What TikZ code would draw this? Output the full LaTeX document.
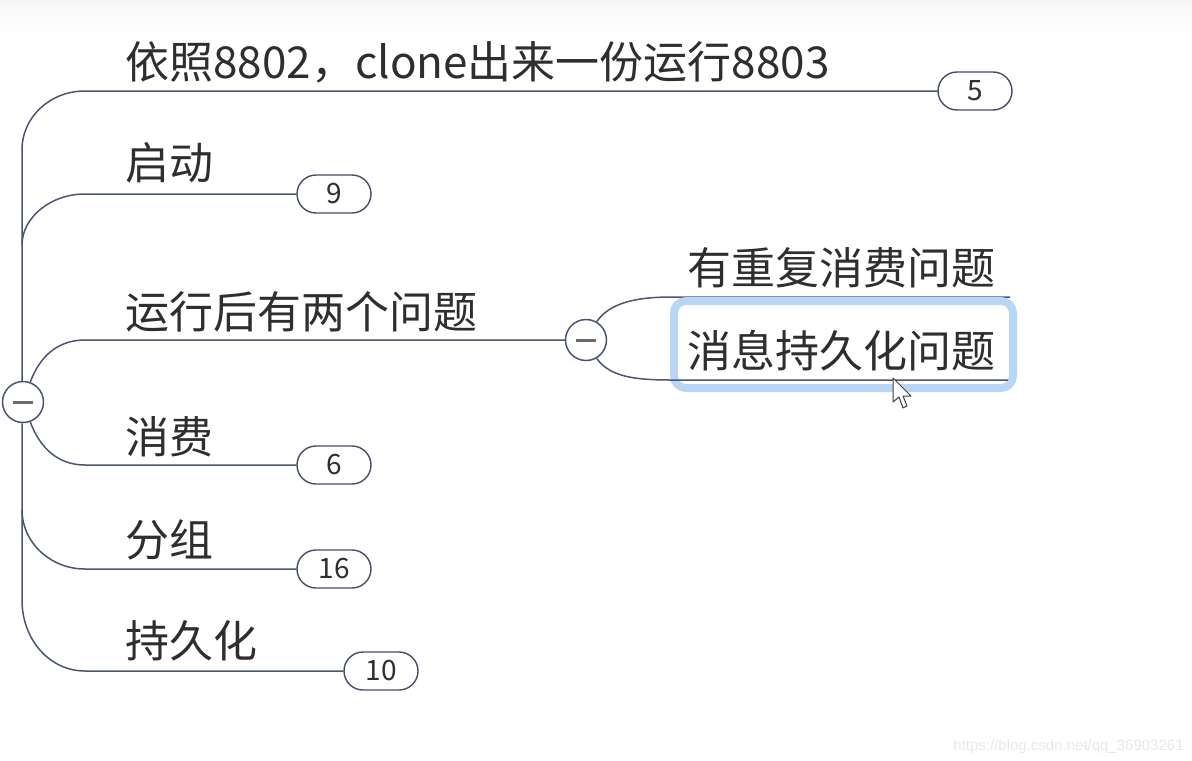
\documentclass[tikz,border=0pt]{standalone}
\usepackage{fontspec}
\setmainfont{Noto Sans CJK SC}
\newfontfamily\markfont{Liberation Sans}
\usetikzlibrary{shapes.misc}
\definecolor{linec}{HTML}{4B5573}
\definecolor{txtc}{HTML}{2E2E2E}
\definecolor{selc}{HTML}{B9D7F4}
\begin{document}
\begin{tikzpicture}[
    x=0.5pt, y=-0.5pt,
    topic/.style={anchor=base west, inner sep=0pt, text=txtc, font=\fontsize{22}{26}\selectfont},
    count/.style={rounded rectangle, draw=linec!90!black, fill=white, line width=0.7pt, minimum width=37pt, minimum height=19pt, inner sep=0pt, text=txtc, font=\fontsize{14}{16}\selectfont},
    toggle/.style={circle, draw=linec, fill=white, line width=0.75pt, minimum size=20.5pt, inner sep=0pt,
        path picture={\draw[line width=1.5pt, gray!85!black] ([xshift=-5pt]path picture bounding box.center) -- ([xshift=5pt]path picture bounding box.center);}},
    branch/.style={draw=linec, line width=0.75pt}
]
    \useasboundingbox (0,0) rectangle (1192,760);
    \shade[top color=gray!7, bottom color=white] (0,0) rectangle (1192,32);

    % Topics
    \node[topic] (clone) at (125,78) {依照8802，clone出来一份运行8803};
    \node[topic] (start) at (125,179) {启动};
    \node[topic] (issue) at (125,328) {运行后有两个问题};
    \node[topic] (consume) at (125,453) {消费};
    \node[topic] (group) at (125,556) {分组};
    \node[topic] (persist) at (125,657) {持久化};

    % Counts
    \node[count] (n5) at (975,91) {5};
    \node[count] (n9) at (334,194) {9};
    \node[count] (n6) at (334,465) {6};
    \node[count] (n16) at (334,569) {16};
    \node[count] (n10) at (381,671) {10};

    % Toggles
    \node[toggle] (root) at (23,402) {};
    \node[toggle] (mid) at (586,340) {};

    % Bend points
    \coordinate (up) at (22,150);
    \coordinate (b2) at (22,245);
    \coordinate (b5) at (22,510);
    \coordinate (down) at (22,600);

    % Branches
    \draw[branch] (root.north -| up) -- (up) .. controls (22,117) and (50,91) .. (85,91) -- (n5.west);
    \draw[branch] (b2) .. controls (22,218) and (50,194) .. (85,194) -- (n9.west);
    \draw[branch] (root.70) .. controls (40,356) and (58,340) .. (85,340) -- (mid.west);
    \draw[branch] (root.-70) .. controls (40,448) and (58,465) .. (85,465) -- (n6.west);
    \draw[branch] (root.south -| down) -- (down) .. controls (22,640) and (50,671) .. (85,671) -- (n10.west);
    \draw[branch] (b5) .. controls (22,542) and (50,569) .. (85,569) -- (n16.west);

    % Sub topics
    \node[topic] (repeat) at (687,284) {有重复消费问题};
    \draw[branch] (mid.60) .. controls (610,303) and (635,297) .. (672,297) -- (1010,297);
    \draw[selc, line width=4pt, fill=white, rounded corners=6pt] (674,301) rectangle (1013,388);
    \node[topic] (durable) at (687,367) {消息持久化问题};
    \draw[branch] (mid.-60) .. controls (610,377) and (635,380) .. (672,380) -- (1008,380);

    % Cursor
    \draw[fill=white, draw=black!75, line width=0.5pt, line join=round]
        (893,378) -- (893,402) -- (899,397) -- (903,408) -- (907,406) -- (903,396) -- (911,396) -- cycle;

    % Watermark
    \node[anchor=base east, inner sep=0pt, text=gray!18, font=\markfont\fontsize{7.5}{9}\selectfont] (mark) at (1184,750) {https://blog.csdn.net/qq\_36903261};
\end{tikzpicture}
\end{document}
